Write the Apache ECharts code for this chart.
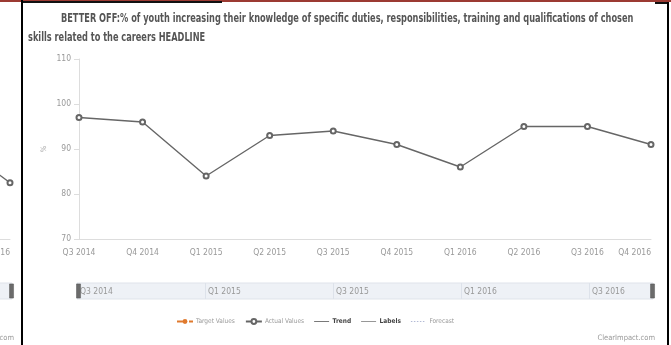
<!DOCTYPE html>
<html><head><meta charset="utf-8">
<script src="https://cdn.jsdelivr.net/npm/echarts@6/dist/echarts.min.js"></script>
<style>
html,body{margin:0;padding:0;width:671px;height:345px;overflow:hidden;background:#fff;position:relative;}
#main{position:absolute;left:23px;top:0;width:644px;height:345px;}
#clip{position:absolute;left:0;top:0;width:21px;height:345px;overflow:hidden;}
#side{position:absolute;left:-618px;top:0;width:644px;height:345px;}
.b{position:absolute;}
</style></head><body>
<div id="clip"><div id="side"></div></div>
<div id="main"></div>
<div class="b" style="left:0;top:0;width:671px;height:2px;background:#9c3a32"></div>
<div class="b" style="left:21px;top:1px;width:201px;height:2px;background:#111"></div>
<div class="b" style="left:21px;top:0;width:2px;height:345px;background:#000"></div>
<div class="b" style="left:655px;top:2px;width:14px;height:2px;background:#111"></div>
<div class="b" style="left:667px;top:2px;width:2px;height:343px;background:#000"></div>
<script>
const titleLine1 = "BETTER OFF:% of youth increasing their knowledge of specific duties, responsibilities, training and qualifications of chosen";
const titleLine2 = "skills related to the careers HEADLINE";
const quarters = ["Q3 2014","Q4 2014","Q1 2015","Q2 2015","Q3 2015","Q4 2015","Q1 2016","Q2 2016","Q3 2016","Q4 2016"];
const actualValues = [97, 96, 84, 93, 94, 91, 86, 95, 95, 91];
// neighbouring (cut-off) panel: only the last two points are visible
const sideValues = ['-','-','-','-','-','-','-','-', 93, 82.5];
const yTicks = {min: 70, max: 110, interval: 10};
const legendNames = ["Target Values","Actual Values","Trend","Labels","Forecast"];
const footer = "ClearImpact.com";

const FONT = "'DejaVu Sans Condensed','Liberation Sans Narrow',sans-serif";
const LINE_ICON = 'path://M0,0M20,8M0,3.5h20v1.2h-20z';
const DOT_ICON = 'path://M0,0M20,8M0,3.6h2v1h-2zM4,3.6h2v1h-2zM8,3.6h2v1h-2zM12,3.6h2v1h-2zM16,3.6h2v1h-2z';

function makeOption(values, withTitle){
  const graphic = [{type:'text', right:12, top:334, style:{text:footer, fill:'#999', font:'7.5px '+FONT}}];
  if (withTitle) {
    graphic.push({type:'text', x:38, y:12, scaleX:0.73, style:{text:titleLine1, fill:'#555', font:'bold 12.5px '+FONT}});
    graphic.push({type:'text', x:5, y:31, scaleX:0.73, style:{text:titleLine2, fill:'#555', font:'bold 12.5px '+FONT}});
  }
  return {
    animation:false,
    textStyle:{fontFamily:FONT},
    grid:[
      {left:56, right:16, top:59, height:180, outerBoundsMode:'none', containLabel:false},
      {left:54, right:14, top:283, height:16, show:true, backgroundColor:'#eef1f6', borderColor:'#dfe3ea', borderWidth:1, outerBoundsMode:'none', containLabel:false}
    ],
    xAxis:[
      {type:'category', gridIndex:0, data:quarters, boundaryGap:false,
       axisLine:{lineStyle:{color:'#dddddd'}}, axisTick:{show:false},
       axisLabel:{color:'#999', fontSize:8.5, margin:9, interval:0, alignMaxLabel:'right'}},
      {type:'category', gridIndex:1, data:quarters, boundaryGap:false, position:'top',
       axisLine:{show:false}, axisTick:{show:false},
       splitLine:{show:true, interval:1, lineStyle:{color:'#dde2ea'}},
       axisLabel:{inside:true, interval:1, align:'left', color:'#999', fontSize:8.5, margin:4, padding:[0,0,0,3]}}
    ],
    yAxis:[
      {type:'value', gridIndex:0, min:yTicks.min, max:yTicks.max, interval:yTicks.interval,
       name:'%', nameLocation:'middle', nameGap:31, nameMoveOverlap:false, nameTextStyle:{color:'#aaa', fontSize:7.5},
       axisLine:{show:true, lineStyle:{color:'#dddddd'}}, axisTick:{show:true, length:5, lineStyle:{color:'#dddddd'}},
       axisLabel:{color:'#999', fontSize:8.5, margin:8}, splitLine:{show:false}},
      {type:'value', gridIndex:1, show:false}
    ],
    dataZoom:[{type:'slider', xAxisIndex:0, start:0, end:100, left:54, right:14, top:283, height:16,
      showDataShadow:false, showDetail:false, brushSelect:false, moveHandleSize:0,
      backgroundColor:'rgba(0,0,0,0)', fillerColor:'rgba(0,0,0,0)', borderColor:'rgba(0,0,0,0)',
      dataBackground:{lineStyle:{opacity:0}, areaStyle:{opacity:0}},
      handleIcon:'path://M0,0h4v14h-4z', handleSize:'88%',
      handleStyle:{color:'#6b6b6b', borderColor:'#555', borderWidth:0.5}}],
    legend:{
      left:153, top:318, itemWidth:16, itemHeight:6, itemGap:10, padding:0,
      textStyle:{fontFamily:FONT, fontSize:6.5, color:'#999', padding:[0,0,0,-2]},
      data:[
        {name:legendNames[0]},
        {name:legendNames[1]},
        {name:legendNames[2], icon:LINE_ICON, textStyle:{color:'#444', fontWeight:'bold'}},
        {name:legendNames[3], icon:LINE_ICON, textStyle:{color:'#444', fontWeight:'bold'}},
        {name:legendNames[4], icon:DOT_ICON}
      ]},
    graphic:graphic,
    series:[
      {name:legendNames[0], type:'line', data:[], symbol:'circle', symbolSize:5,
       itemStyle:{color:'#e07a2e'}, lineStyle:{color:'#e07a2e', type:'dashed', width:1.2}},
      {name:legendNames[1], type:'line', data:values, xAxisIndex:0, yAxisIndex:0,
       symbol:'emptyCircle', symbolSize:5, showAllSymbol:true,
       itemStyle:{color:'#666', borderWidth:1}, lineStyle:{color:'#666', width:1.4}},
      {name:legendNames[2], type:'line', data:[], symbol:'none', itemStyle:{color:'#666'}, lineStyle:{color:'#666', width:1}},
      {name:legendNames[3], type:'line', data:[], symbol:'none', itemStyle:{color:'#888'}, lineStyle:{color:'#888', width:1}},
      {name:legendNames[4], type:'line', data:[], symbol:'none', itemStyle:{color:'#9aa4c8'}, lineStyle:{color:'#9aa4c8', type:'dotted', width:1}}
    ]
  };
}
echarts.init(document.getElementById('main'), null, {renderer:'canvas'}).setOption(makeOption(actualValues, true));
echarts.init(document.getElementById('side'), null, {renderer:'canvas'}).setOption(makeOption(sideValues, false));
</script>
</body></html>
